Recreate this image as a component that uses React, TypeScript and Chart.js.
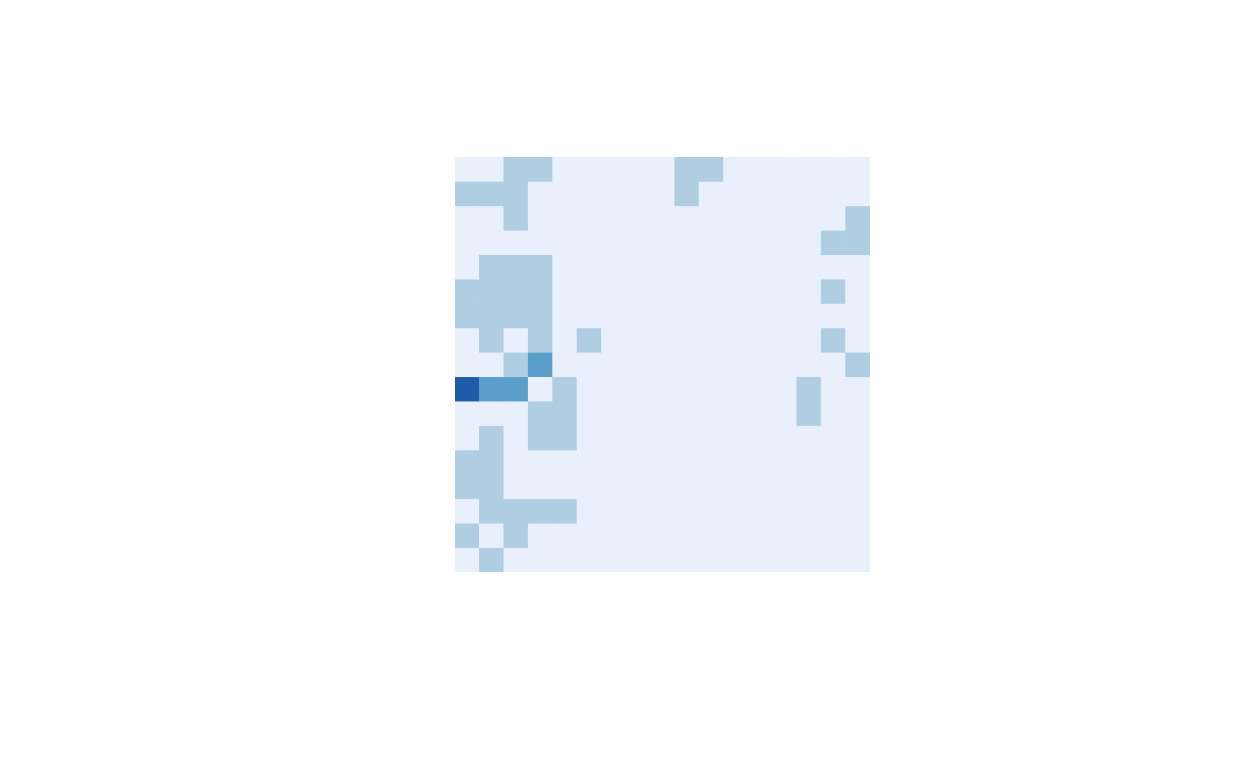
import React, { useEffect, useRef } from "react";
import { Chart, registerables } from "chart.js";

Chart.register(...registerables);

const columnLabels = ["1", "2", "3", "4", "5", "6", "7", "8", "9", "10", "11", "12", "13", "14", "15", "16", "17"];
const rowLabels = ["1", "2", "3", "4", "5", "6", "7", "8", "9", "10", "11", "12", "13", "14", "15", "16", "17"];

// cell values, one array per row (top to bottom)
const counts: number[][] = [
  [0, 0, 1, 1, 0, 0, 0, 0, 0, 1, 1, 0, 0, 0, 0, 0, 0],
  [1, 1, 1, 0, 0, 0, 0, 0, 0, 1, 0, 0, 0, 0, 0, 0, 0],
  [0, 0, 1, 0, 0, 0, 0, 0, 0, 0, 0, 0, 0, 0, 0, 0, 1],
  [0, 0, 0, 0, 0, 0, 0, 0, 0, 0, 0, 0, 0, 0, 0, 1, 1],
  [0, 1, 1, 1, 0, 0, 0, 0, 0, 0, 0, 0, 0, 0, 0, 0, 0],
  [1, 1, 1, 1, 0, 0, 0, 0, 0, 0, 0, 0, 0, 0, 0, 1, 0],
  [1, 1, 1, 1, 0, 0, 0, 0, 0, 0, 0, 0, 0, 0, 0, 0, 0],
  [0, 1, 0, 1, 0, 1, 0, 0, 0, 0, 0, 0, 0, 0, 0, 1, 0],
  [0, 0, 1, 2, 0, 0, 0, 0, 0, 0, 0, 0, 0, 0, 0, 0, 1],
  [3, 2, 2, 0, 1, 0, 0, 0, 0, 0, 0, 0, 0, 0, 1, 0, 0],
  [0, 0, 0, 1, 1, 0, 0, 0, 0, 0, 0, 0, 0, 0, 1, 0, 0],
  [0, 1, 0, 1, 1, 0, 0, 0, 0, 0, 0, 0, 0, 0, 0, 0, 0],
  [1, 1, 0, 0, 0, 0, 0, 0, 0, 0, 0, 0, 0, 0, 0, 0, 0],
  [1, 1, 0, 0, 0, 0, 0, 0, 0, 0, 0, 0, 0, 0, 0, 0, 0],
  [0, 1, 1, 1, 1, 0, 0, 0, 0, 0, 0, 0, 0, 0, 0, 0, 0],
  [1, 0, 1, 0, 0, 0, 0, 0, 0, 0, 0, 0, 0, 0, 0, 0, 0],
  [0, 1, 0, 0, 0, 0, 0, 0, 0, 0, 0, 0, 0, 0, 0, 0, 0],
];

const palette = ["#e9f0fc", "#b0cee2", "#5a9fcb", "#1c5ca8"];

export default function App() {
  const canvasRef = useRef<HTMLCanvasElement | null>(null);

  useEffect(() => {
    const canvas = canvasRef.current;
    if (!canvas) return;
    const datasets = rowLabels.map((label, i) => ({
      label,
      data: columnLabels.map(() => [i, i + 1]),
      backgroundColor: counts[i].map((v) => palette[v]),
      borderWidth: 0,
      grouped: false,
      barPercentage: 1,
      categoryPercentage: 1,
    }));
    const chart = new Chart(canvas, {
      type: "bar",
      data: { labels: columnLabels, datasets: datasets as any },
      options: {
        animation: false,
        responsive: false,
        maintainAspectRatio: false,
        layout: { padding: { left: 447, right: 370, top: 149, bottom: 188 } },
        plugins: { legend: { display: false }, tooltip: { enabled: false } },
        events: [],
        scales: {
          x: { type: "category", display: false, offset: true, grid: { display: false } },
          y: { type: "linear", display: false, min: 0, max: 17, reverse: true, grid: { display: false } },
        },
      },
    });
    return () => chart.destroy();
  }, []);

  return (
    <div style={{ width: 1232, height: 752 }}>
      <canvas ref={canvasRef} width={1232} height={752} style={{ display: "block" }} />
    </div>
  );
}
